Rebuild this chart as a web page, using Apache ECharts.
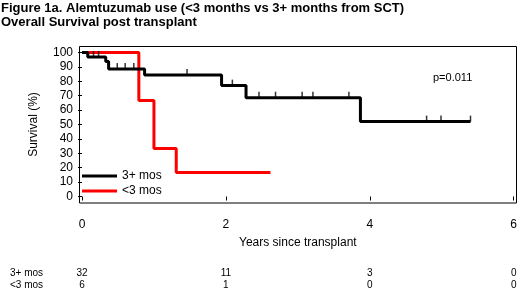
<!DOCTYPE html>
<html>
<head>
<meta charset="utf-8">
<script src="https://cdn.jsdelivr.net/npm/echarts@6/dist/echarts.min.js"></script>
<style>
  html, body { margin: 0; padding: 0; background: #fff; }
  #km { width: 520px; height: 289px; }
</style>
</head>
<body>
<div id="km"></div>
<script>
// Kaplan-Meier steps (time in years, survival %)
var years3p = [0, 0.08, 0.33, 0.37, 0.87, 1.94, 2.28, 3.87, 5.40];
var surv3p  = [100, 96.9, 93.8, 88.5, 84.4, 77.0, 68.6, 52.0, 52.0];
var yearsLt3 = [0, 0.79, 1.00, 1.31, 2.62];
var survLt3  = [100, 66.7, 33.3, 16.7, 16.7];

// censored observations, 3+ mos group
var censorYears3p = [0.16, 0.23, 0.49, 0.60, 0.72, 1.46, 2.09, 2.46, 2.69, 3.06, 3.21, 3.71, 4.79, 4.99, 5.40];
var censorSurv3p  = [96.9, 96.9, 88.5, 88.5, 88.5, 84.4, 77.0, 68.6, 68.6, 68.6, 68.6, 68.6, 52.0, 52.0, 52.0];

// numbers at risk
var riskYears = [0, 2, 4, 6];
var risk3p  = [32, 11, 3, 0];
var riskLt3 = [6, 1, 0, 0];

var xTicks = [0, 2, 4, 6];

function pairs(xs, ys) {
  return xs.map(function (x, i) { return [x, ys[i]]; });
}

var font = 'Liberation Sans, Arial, sans-serif';
var chart = echarts.init(document.getElementById('km'));

var option = {
  animation: false,
  textStyle: { fontFamily: font, color: '#000' },
  title: {
    text: 'Figure 1a. Alemtuzumab use (<3 months vs 3+ months from SCT)\nOverall Survival post transplant',
    left: 1, top: 1, padding: 0,
    textStyle: { fontFamily: font, fontSize: 13, fontWeight: 'bold', color: '#000', lineHeight: 14 }
  },
  grid: { left: 82, right: 4, top: 52.5, bottom: 92.5 },
  legend: {
    data: ['3+ mos', '<3 mos'],
    orient: 'vertical',
    left: 82, top: 169, padding: 0,
    icon: 'rect',
    itemWidth: 35, itemHeight: 3, itemGap: 1,
    textStyle: { fontFamily: font, fontSize: 12, color: '#000', lineHeight: 14 }
  },
  xAxis: {
    type: 'value', min: 0, max: 6, interval: 2,
    offset: 6.5,
    name: 'Years since transplant', nameLocation: 'middle', nameGap: 34,
    nameTextStyle: { fontFamily: font, fontSize: 12, color: '#000' },
    axisLine: { show: false },
    axisTick: { show: true, length: 4, lineStyle: { color: '#000' } },
    axisLabel: { fontFamily: font, fontSize: 12, color: '#000', margin: 16,
      customValues: xTicks },
    splitLine: { show: false }
  },
  yAxis: {
    type: 'value', min: 0, max: 100, interval: 10,
    offset: 3,
    name: 'Survival (%)', nameLocation: 'middle', nameGap: 39,
    nameTextStyle: { fontFamily: font, fontSize: 12, color: '#000' },
    axisLine: { show: false },
    axisTick: { show: true, length: 4, lineStyle: { color: '#000' } },
    axisLabel: { fontFamily: font, fontSize: 12, color: '#000', margin: 6 },
    splitLine: { show: false }
  },
  series: [
    {
      name: '3+ mos', type: 'line', step: 'end', showSymbol: false,
      data: pairs(years3p, surv3p),
      lineStyle: { color: '#000', width: 3 }, itemStyle: { color: '#000' }, z: 3
    },
    {
      name: '<3 mos', type: 'line', step: 'end', showSymbol: false,
      data: pairs(yearsLt3, survLt3),
      lineStyle: { color: '#f00', width: 3 }, itemStyle: { color: '#f00' }, z: 2
    },
    {
      name: 'censored', type: 'scatter',
      data: pairs(censorYears3p, censorSurv3p),
      symbol: 'rect', symbolSize: [1.5, 6], symbolOffset: [0, -3],
      itemStyle: { color: '#000' }, z: 4
    }
  ],
  graphic: [
    { type: 'rect', shape: { x: 79.5, y: 46.5, width: 437, height: 156.5 },
      style: { fill: null, stroke: '#000', lineWidth: 1 }, silent: true },
    { type: 'text', x: 433, y: 72,
      style: { text: 'p=0.011', font: '11px ' + font, fill: '#000' } }
  ]
};
chart.setOption(option);

// numbers-at-risk table placed on the library's x scale
var riskGraphics = [
  { type: 'text', x: 10, y: 268, style: { text: '3+ mos', font: '10px ' + font, fill: '#000' } },
  { type: 'text', x: 10, y: 280, style: { text: '<3 mos', font: '10px ' + font, fill: '#000' } }
];
riskYears.forEach(function (t, i) {
  var px = chart.convertToPixel({ xAxisIndex: 0 }, t);
  riskGraphics.push({ type: 'text', x: px, y: 268,
    style: { text: String(risk3p[i]), font: '10px ' + font, fill: '#000', align: 'center' } });
  riskGraphics.push({ type: 'text', x: px, y: 280,
    style: { text: String(riskLt3[i]), font: '10px ' + font, fill: '#000', align: 'center' } });
});
chart.setOption({ graphic: option.graphic.concat(riskGraphics) });
</script>
</body>
</html>
